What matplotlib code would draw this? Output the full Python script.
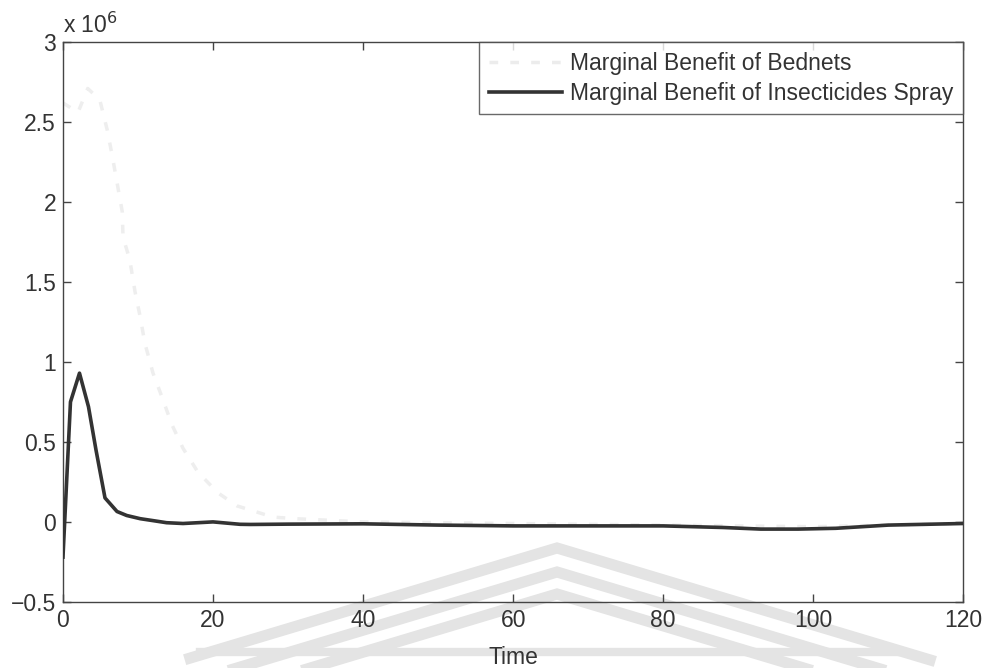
import matplotlib
matplotlib.use("Agg")
import matplotlib.pyplot as plt
from matplotlib.ticker import FuncFormatter, MultipleLocator
from matplotlib.lines import Line2D

plt.rcParams['font.family'] = ['Liberation Sans', 'DejaVu Sans']

# Marginal benefit of bednets (in units of 10^6)
bednet_time = [0, 2, 3.3, 4.9, 5.9, 6.6, 7.9, 8.0, 8.9, 9.6, 10.3, 10.9, 12.0,
               13.2, 14.5, 16.0, 18.0, 20.7, 23.2, 28.0, 31.0, 40, 60, 80, 100, 120]
bednet_value = [2.62, 2.56, 2.71, 2.64, 2.45, 2.28, 1.94, 1.78, 1.64, 1.44, 1.28, 1.12, 0.93,
                0.78, 0.61, 0.46, 0.31, 0.18, 0.10, 0.03, 0.02, 0.0, -0.01, -0.02, -0.03, -0.01]

# Marginal benefit of insecticide spray (in units of 10^6)
spray_time = [0, 1, 2.2, 3.4, 4.4, 5.6, 7.2, 8.5, 10.3, 12, 13.8, 16, 20, 23.6, 25,
              30, 40, 50, 60, 70, 80, 88, 93, 98, 103, 110, 120]
spray_value = [-0.22, 0.75, 0.93, 0.72, 0.45, 0.15, 0.065, 0.04, 0.02, 0.008, -0.005, -0.01,
               0.0, -0.015, -0.016, -0.014, -0.012, -0.02, -0.025, -0.025, -0.025, -0.035,
               -0.045, -0.045, -0.04, -0.02, -0.01]

xticks = [0, 20, 40, 60, 80, 100, 120]
series_labels = ["Marginal Benefit of Bednets", "Marginal Benefit of Insecticides Spray"]

fig = plt.figure(figsize=(9.84, 6.68), dpi=100)
ax = fig.add_axes([0.064, 0.099, 0.915, 0.838])
ax.patch.set_alpha(0)

# faint chevron watermark behind the axes
wm_color = "#e4e4e4"
for apex_y in (548, 572, 594):
    xs = [190, 557, 930]
    ys = [apex_y + 0.3 * (557 - 190), apex_y, apex_y + 0.3 * (930 - 557)]
    fig.add_artist(Line2D([x / 984 for x in xs], [1 - y / 668 for y in ys],
                          color=wm_color, lw=8, solid_joinstyle='miter', zorder=-5))
fig.add_artist(Line2D([200 / 984, 900 / 984], [1 - 652 / 668, 1 - 652 / 668],
                      color=wm_color, lw=6, zorder=-5))

ax.plot(bednet_time, bednet_value, color="#eeeeee", lw=2.5, ls=(0, (2.5, 3.5)),
        label=series_labels[0], zorder=2)
ax.plot(spray_time, spray_value, color="#333333", lw=2.6, label=series_labels[1],
        zorder=3)

ax.set_xlim(0, 120)
ax.set_ylim(-0.5, 3)
ax.set_xticks(xticks)
ax.yaxis.set_major_locator(MultipleLocator(0.5))
ax.yaxis.set_major_formatter(FuncFormatter(lambda v, p: ("%g" % v).replace("-", "\u2212")))

for s in ax.spines.values():
    s.set_color("#444444")
    s.set_linewidth(1.0)
ax.tick_params(direction="in", length=6, width=1, color="#444444", top=True, right=True,
               labelsize=16.5, labelcolor="#333333", pad=5)

ax.set_xlabel("Time", fontsize=16.5, color="#333333", labelpad=10)
fig.text(0.064, 0.944, r"x 10$^{6}$", fontsize=16.5, color="#333333", ha="left", va="bottom")

leg = ax.legend(loc="upper right", borderaxespad=0, fontsize=16.5, frameon=True,
                fancybox=False, handlelength=3.2, handletextpad=0.35,
                borderpad=0.42, labelspacing=0.3, labelcolor="#333333")
leg.get_frame().set_edgecolor("#444444")
leg.get_frame().set_linewidth(1.0)
leg.legend_handles[0].set_color("#ececec")

fig.savefig("out.png", dpi=100, facecolor="white")
